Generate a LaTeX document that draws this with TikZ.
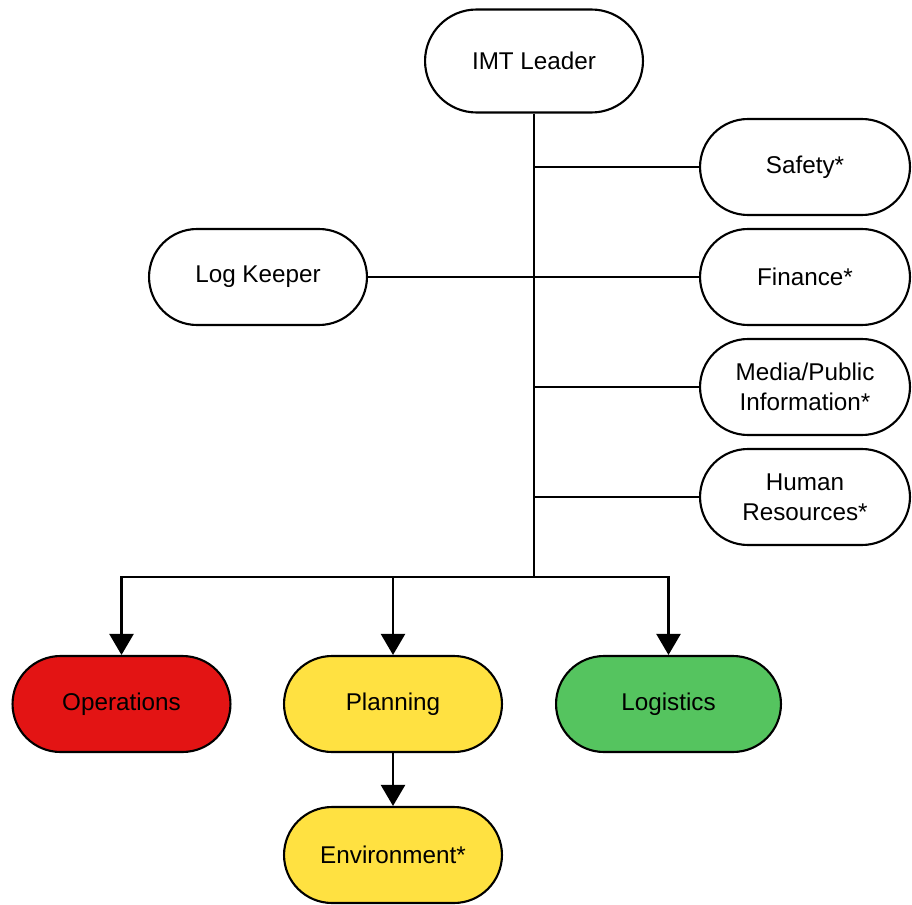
\documentclass[tikz,border=0pt]{standalone}
\usepackage{fontspec}
\setmainfont{Liberation Sans}
\usetikzlibrary{shapes.misc,arrows.meta}
\definecolor{opsred}{HTML}{E31414}
\definecolor{planyellow}{HTML}{FFE141}
\definecolor{loggreen}{HTML}{55C45F}
\tikzset{
  box/.style={rounded rectangle,draw=black,line width=1.2pt,fill=white,
    minimum width=4.5cm,minimum height=1.92cm,align=center,inner sep=2pt,
    font=\fontsize{13.8}{17}\selectfont},
  link/.style={line width=1.3pt},
  arr/.style={line width=1.3pt,-{Triangle[width=0.48cm,length=0.42cm]}}
}
\begin{document}
\begin{tikzpicture}[x=0.02cm,y=-0.02cm]
      \useasboundingbox (0,0) rectangle (912,905);
      % boxes
      \node [box,minimum width=4.5cm,minimum height=2.06cm] (lead) at (534,61) {IMT Leader};
      \node [box,minimum width=4.34cm] (safe) at (805,167) {Safety*};
      \node [box,minimum width=4.34cm] (fin) at (805,277) {Finance*};
      \node [box,minimum width=4.34cm] (media) at (805,387) {Media/Public\\Information*};
      \node [box,minimum width=4.34cm] (hr) at (805,497) {Human\\Resources*};
      \node [box] (logk) at (258,277) {Log Keeper};
      \node [box,fill=opsred] (ops) at (121.5,704) {Operations};
      \node [box,fill=planyellow] (plan) at (393,704) {Planning};
      \node [box,fill=loggreen,minimum width=4.64cm] (logi) at (668.5,704) {Logistics};
      \node [box,fill=planyellow] (env) at (393,855) {Environment*};
      \coordinate (bus) at (534,577);
      % lines
      \draw [link] (lead.south) -- (bus);
      \draw [link] (safe.west) -- (safe.west -| bus);
      \draw [link] (logk.east) -- (fin.west);
      \draw [link] (media.west) -- (media.west -| bus);
      \draw [link] (hr.west) -- (hr.west -| bus);
      % arrows
      \draw [arr] (bus) -| (ops.north);
      \draw [arr] (bus) -| (plan.north);
      \draw [arr] (bus) -| (logi.north);
      \draw [arr] (plan.south) -- (env.north);
    \end{tikzpicture}
\end{document}
